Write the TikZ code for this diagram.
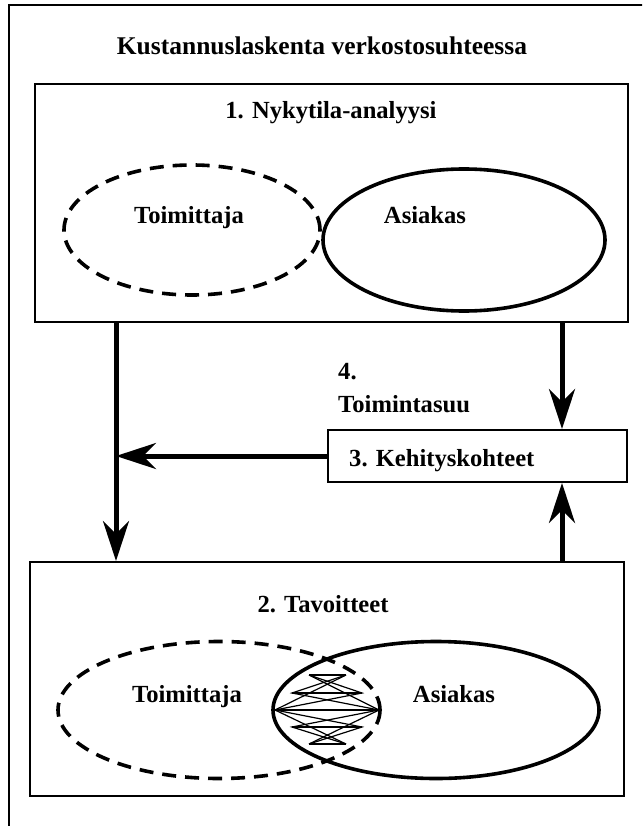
\documentclass[tikz,border=0pt]{standalone}
\usepackage{fontspec}
\setmainfont{Liberation Serif}
\usetikzlibrary{arrows.meta,positioning,shapes.geometric}
\tikzstyle{block} = [draw, rectangle, line width=2pt, inner sep=0pt]
\tikzstyle{caption} = [font=\fontsize{24.6}{28}\selectfont\bfseries, inner sep=0pt, anchor=base]
\tikzstyle{oval} = [draw, ellipse, line width=3.6pt, inner sep=0pt]
\tikzstyle{dashoval} = [oval, dash pattern=on 14pt off 9pt]
\tikzstyle{flow} = [line width=5pt, -{Stealth[length=40pt, width=26pt, inset=13pt]}]

\begin{document}
\begin{tikzpicture}[x=1pt, y=-1pt]
    \useasboundingbox (0,0) rectangle (642,826);
    \clip (0,0) rectangle (642,826);
    \draw [line width=1.5pt] (9,5) rectangle (660,850);

    \node [caption, font=\fontsize{25.5}{30}\selectfont\bfseries] (head) at (322,55) {Kustannuslaskenta verkostosuhteessa};

    \node [block, minimum width=593pt, minimum height=238pt] (lvl1) at (331.5,203) {};
    \node [block, minimum width=299pt, minimum height=52pt] (lvl3) at (477.5,456) {};
    \node [block, minimum width=594pt, minimum height=234pt] (lvl2) at (327,679) {};

    \node [caption] (lvl1t) at (331,119) {1. Nykytila-analyysi};
    \node [caption] (lvl2t) at (323,612) {2. Tavoitteet};
    \node [caption, anchor=base west] (lvl3t) at (349,466) {3. Kehityskohteet};
    \node [caption, anchor=base west] (plan) at (338,379) {4.};
    \node [caption, anchor=base west] (plan2) at (338,412) {Toimintasuu};

    % nykytila
    \node [dashoval, minimum width=256pt, minimum height=130pt] (toim1) at (192,230) {};
    \node [oval, minimum width=282pt, minimum height=142pt] (asiak1) at (464,240) {};
    \node [caption] at (189,224) {Toimittaja};
    \node [caption] at (425,224) {Asiakas};

    % tavoitteet
    \node [oval, minimum width=326pt, minimum height=137pt] (asiak2) at (436,710) {};
    \node [dashoval, minimum width=322pt, minimum height=137pt] (toim2) at (219,710) {};
    \node [caption] at (187,702) {Toimittaja};
    \node [caption] at (454,702) {Asiakas};

    % yhteinen alue
    \begin{scope}[line width=1.2pt]
    \draw (asiak2.west) -- (toim2.east);
    \draw (309,675) -- (346,675);
    \draw (292,693) -- (362,693);
    \draw (292,727) -- (362,727);
    \draw (309,744) -- (346,744);
    \draw (309,675) -- (362,693) -- (275,710) -- (362,727) -- (309,744);
    \draw (346,675) -- (292,693) -- (379,710) -- (292,727) -- (346,744);
    \draw (309,675) -- (379,710) -- (309,744);
    \draw (346,675) -- (275,710) -- (346,744);
    \end{scope}

    \coordinate (join) at (116,456);
    \coordinate (feed) at (562,456);
    \draw [flow] (lvl1.south -| join) -- (lvl2.north -| join);
    \draw [flow] (lvl3.west) -- (join);
    \draw [flow] (lvl1.south -| feed) -- (lvl3.north -| feed);
    \draw [flow] (lvl2.north -| feed) -- (lvl3.south -| feed);
\end{tikzpicture}
\end{document}
